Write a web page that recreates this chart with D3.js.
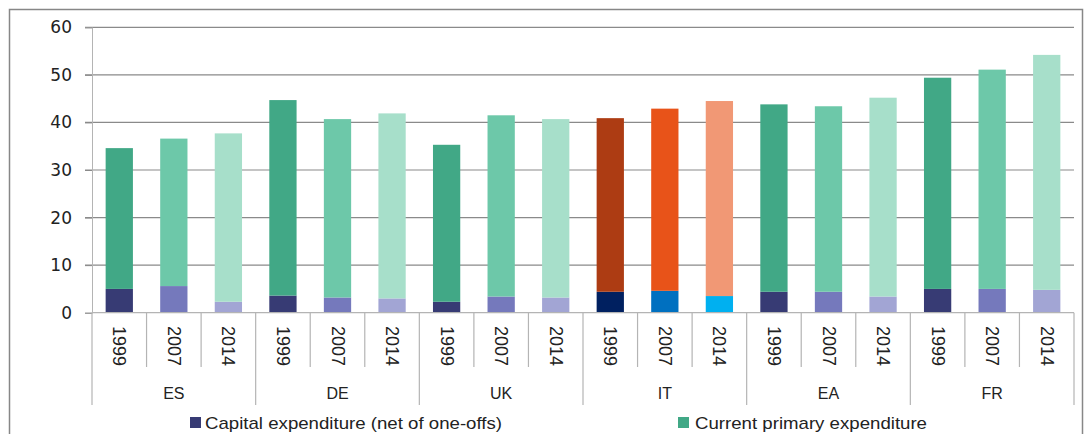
<!DOCTYPE html>
<html>
<head>
<meta charset="utf-8">
<script src="https://cdn.jsdelivr.net/npm/d3@7"></script>
<style>
  html, body { margin: 0; padding: 0; background: #fff; }
  svg { display: block; }
  text { font-family: "Liberation Sans", Arial, sans-serif; fill: #222; }
</style>
</head>
<body>
<svg id="chart" width="1085" height="434"></svg>
<script>
// ---- Data ----
const countries = ["ES", "DE", "UK", "IT", "EA", "FR"];
const years = ["1999", "2007", "2014"];
// Capital expenditure (net of one-offs), % of GDP, per country x year
const capital = [
  5.0, 5.6, 2.3,   // ES
  3.6, 3.2, 3.0,   // DE
  2.3, 3.4, 3.2,   // UK
  4.4, 4.6, 3.5,   // IT
  4.4, 4.4, 3.4,   // EA
  5.0, 5.0, 4.8    // FR
];
// Current primary expenditure, % of GDP
const current = [
  29.6, 31.0, 35.4,  // ES
  41.1, 37.5, 38.9,  // DE
  33.0, 38.1, 37.5,  // UK
  36.5, 38.3, 41.0,  // IT
  39.4, 39.0, 41.8,  // EA
  44.4, 46.1, 49.4   // FR
];
const yTicks = [0, 10, 20, 30, 40, 50, 60];
const seriesNames = ["Capital expenditure (net of one-offs)", "Current primary expenditure"];

// Colours
const capColors = ["#373B74", "#7579BC", "#A2A5D4"];
const curColors = ["#41A886", "#6DC8A9", "#A7DFCA"];
const itCapColors = ["#002060", "#0070C0", "#00B0F0"];
const itCurColors = ["#AD3C13", "#E85319", "#F19875"];

(function () {
// ---- Build rows ----
const rows = [];
countries.forEach((c, ci) => {
  years.forEach((yr, yi) => {
    const i = ci * years.length + yi;
    rows.push({ key: c + "-" + yr, country: c, year: yr, yi, cap: capital[i], cur: current[i] });
  });
});

const svg = d3.select("#chart");
const pLeft = 92, pRight = 1074, pTop = 27.3, pBottom = 312.7;

const x = d3.scaleBand().domain(rows.map(d => d.key)).range([pLeft, pRight]).paddingInner(0.5).paddingOuter(0.25);
const y = d3.scaleLinear().domain([0, 60]).range([pBottom, pTop]);

// Outer frame
svg.append("rect").attr("x", 9.5).attr("y", 9.5).attr("width", 1073).attr("height", 440)
  .attr("fill", "none").attr("stroke", "#878787").attr("stroke-width", 1.5);

// Gridlines
svg.append("g").selectAll("line").data(yTicks.filter(t => t > 0)).join("line")
  .attr("x1", pLeft - 7).attr("x2", pRight)
  .attr("y1", d => y(d)).attr("y2", d => y(d))
  .attr("stroke", "#8a8a8a").attr("stroke-width", 1.2);

// Y axis
const yAxis = svg.append("g").attr("transform", `translate(${pLeft},0)`)
  .call(d3.axisLeft(y).tickValues(yTicks).tickSize(7).tickPadding(13));
yAxis.select(".domain").attr("stroke", "#b4b4b4");
yAxis.selectAll(".tick line").attr("stroke", "#8a8a8a");
yAxis.selectAll(".tick text").style("font-family", "DejaVu Sans, sans-serif").style("font-size", "17px").attr("fill", "#222");

// Bars
const step = x.step();
const bars = svg.append("g");
bars.selectAll("rect.cap").data(rows).join("rect").attr("class", "cap")
  .attr("x", d => x(d.key)).attr("width", x.bandwidth())
  .attr("y", d => y(d.cap)).attr("height", d => y(0) - y(d.cap))
  .attr("fill", d => d.country === "IT" ? itCapColors[d.yi] : capColors[d.yi]);
bars.selectAll("rect.cur").data(rows).join("rect").attr("class", "cur")
  .attr("x", d => x(d.key)).attr("width", x.bandwidth())
  .attr("y", d => y(d.cap + d.cur)).attr("height", d => y(d.cap) - y(d.cap + d.cur))
  .attr("fill", d => d.country === "IT" ? itCurColors[d.yi] : curColors[d.yi]);

// X axis baseline
svg.append("line").attr("x1", pLeft).attr("x2", pRight).attr("y1", pBottom).attr("y2", pBottom)
  .attr("stroke", "#b4b4b4").attr("stroke-width", 1.2);

// Category separators
const sepG = svg.append("g");
rows.forEach((d, i) => {
  const bx = pLeft + i * step;
  const isGroup = d.yi === 0;
  sepG.append("line").attr("x1", bx).attr("x2", bx).attr("y1", pBottom)
    .attr("y2", isGroup ? 405 : 367).attr("stroke", "#b4b4b4").attr("stroke-width", 1.2);
});
sepG.append("line").attr("x1", pRight).attr("x2", pRight).attr("y1", pBottom).attr("y2", 405)
  .attr("stroke", "#b4b4b4").attr("stroke-width", 1.2);

// Year labels (rotated)
svg.append("g").selectAll("text").data(rows).join("text")
  .attr("transform", d => `translate(${x(d.key) + x.bandwidth() / 2},346) rotate(90)`)
  .attr("text-anchor", "middle").attr("dominant-baseline", "central")
  .style("font-size", "18px").text(d => d.year);

// Country labels
svg.append("g").selectAll("text").data(countries).join("text")
  .attr("x", (c, ci) => pLeft + (ci * 3 + 1.5) * step).attr("y", 398.5)
  .attr("text-anchor", "middle").style("font-size", "16px").text(c => c);

// Legend
const legendItems = [
  { name: seriesNames[0], color: capColors[0], sx: 190, tx: 205, w: 297 },
  { name: seriesNames[1], color: curColors[0], sx: 678, tx: 695, w: 232 }
];
const lg = svg.append("g");
legendItems.forEach(it => {
  lg.append("rect").attr("x", it.sx).attr("y", 417).attr("width", 11).attr("height", 11).attr("fill", it.color);
  lg.append("text").attr("x", it.tx).attr("y", 428.5).style("font-size", "17px")
    .attr("textLength", it.w).attr("lengthAdjust", "spacingAndGlyphs").text(it.name);
});
})();
</script>
</body>
</html>
